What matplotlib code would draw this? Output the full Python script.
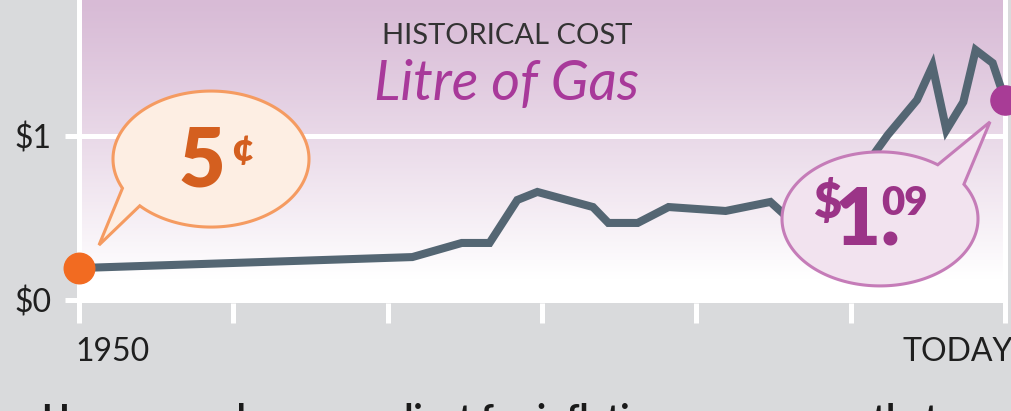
import numpy as np
import matplotlib
matplotlib.use('Agg')
import matplotlib.pyplot as plt
from matplotlib.patches import Polygon
from matplotlib.transforms import IdentityTransform, ScaledTranslation

plt.rcParams['font.family'] = ['Lato', 'DejaVu Sans']

# price of a litre of gas (as plotted)
years = [1950.0, 1971.6, 1974.8, 1976.6, 1978.4, 1979.7, 1983.3, 1984.3, 1986.2,
         1988.2, 1991.9, 1994.8, 1995.6, 1997.5, 1999.5, 2001.7, 2002.4, 2004.3,
         2005.3, 2006.2, 2007.3, 2008.1, 2009.2, 2010.0]
price = [0.195, 0.262, 0.348, 0.348, 0.610, 0.659, 0.567, 0.470, 0.470,
         0.567, 0.543, 0.598, 0.530, 0.500, 0.620, 0.915, 1.006, 1.220,
         1.427, 1.037, 1.207, 1.524, 1.445, 1.220]
xticks = [1950, 1960, 1970, 1980, 1990, 2000, 2010]
xtick_labels = ['1950', '', '', '', '', '', 'TODAY']
yticks = [0, 1]
ytick_labels = ['$0', '$1']

BG = '#d9dadc'
LINE = '#546673'
ORANGE = '#f26b21'
PURPLE = '#a83c96'

fig = plt.figure(figsize=(10.11, 4.11), dpi=100, facecolor=BG)
ax = fig.add_axes([79 / 1011, 108 / 411, 926 / 1011, 303 / 411])
ax.set_xlim(1950, 2010)
ax.set_ylim(-0.018, 1.829)

# purple -> white gradient background
top = np.array([216, 187, 214]) / 255
f = np.linspace(0, 1, 300)
t = np.clip(f / 0.92, 0, 1) ** 1.15
grad = top[None, :] + (1 - top[None, :]) * t[:, None]
ax.imshow(grad[:, None, :], extent=[0, 1, 0, 1], transform=ax.transAxes,
          aspect='auto', zorder=0, interpolation='bilinear')

for s in ['top', 'bottom']:
    ax.spines[s].set_visible(False)
for s in ['left', 'right']:
    ax.spines[s].set_color('white')
    ax.spines[s].set_linewidth(3.6)

ax.set_axisbelow(True)
ax.grid(axis='y', color='white', linewidth=3.6)
ax.set_xticks(xticks)
ax.set_xticklabels(xtick_labels)
ax.set_yticks(yticks)
ax.set_yticklabels(ytick_labels)
ax.tick_params(axis='x', direction='out', length=14.4, width=3.6, color='white',
               pad=10, labelsize=23, labelcolor='#1f1f1f')
ax.tick_params(axis='y', direction='out', length=10, width=3.6, color='white',
               pad=10, labelsize=23, labelcolor='#1f1f1f')
labs = ax.get_xticklabels()
labs[0].set_ha('left')
labs[0].set_transform(labs[0].get_transform() + ScaledTranslation(-0.04, 0, fig.dpi_scale_trans))
labs[-1].set_ha('right')
labs[-1].set_transform(labs[-1].get_transform() + ScaledTranslation(0.08, 0, fig.dpi_scale_trans))

ax.plot(years, price, color=LINE, linewidth=5.8, solid_joinstyle='miter', zorder=3)
ax.plot(years[0], price[0], 'o', color=ORANGE, markersize=22, zorder=5, clip_on=False)
ax.plot(years[-1], price[-1], 'o', color=PURPLE, markersize=21, zorder=5, clip_on=False)

# titles
ax.text(0.462, 0.855, 'HISTORICAL COST', transform=ax.transAxes, ha='center',
        va='baseline', fontsize=21, color='#333333', zorder=6)
ax.text(0.462, 0.67, 'Litre of Gas', transform=ax.transAxes, ha='center',
        va='baseline', fontsize=40, style='italic', color='#a8399a', zorder=6)


def bubble(px_data, cx, cy, a, b, t1, t2, tip, fc, ec):
    px, py = ax.transData.transform(px_data)
    ts = np.radians(np.linspace(t1, t2, 240))
    verts = list(zip(px + cx + a * np.cos(ts), py + cy + b * np.sin(ts)))
    verts.append((px + tip[0], py + tip[1]))
    ax.add_patch(Polygon(verts, closed=True, transform=IdentityTransform(),
                         facecolor=fc, edgecolor=ec, linewidth=2.2,
                         joinstyle='miter', zorder=4, clip_on=False))


start = (years[0], price[0])
end = (years[-1], price[-1])
bubble(start, 132, 109, 98, 68, 223.4, 565.4, (20, 23), '#fdeee3', '#f59b61')
bubble(end, -125, -119, 98, 67, 53.9, 391.1, (-15, -22), '#f2e3ef', '#c57cb8')

px2pt = 0.72
ax.annotate('5', start, xytext=(123 * px2pt, 82 * px2pt), textcoords='offset points',
            ha='center', va='baseline', fontsize=58, fontweight='heavy',
            color='#d45f1f', zorder=6)
ax.annotate('¢', start, xytext=(163 * px2pt, 119 * px2pt), textcoords='offset points',
            ha='center', va='center', fontsize=28, fontweight='heavy',
            color='#d45f1f', zorder=6)

pc = '#9b3487'
ax.annotate('$', end, xytext=(-178 * px2pt, -103 * px2pt), textcoords='offset points',
            ha='center', va='center', fontsize=35, fontweight='heavy', color=pc, zorder=6)
ax.annotate('1.', end, xytext=(-138 * px2pt, -145 * px2pt), textcoords='offset points',
            ha='center', va='baseline', fontsize=57, fontweight='heavy', color=pc, zorder=6)
ax.annotate('09', end, xytext=(-101 * px2pt, -104 * px2pt), textcoords='offset points',
            ha='center', va='center', fontsize=29, fontweight='heavy', color=pc, zorder=6)

# caption running off the bottom edge
fig.text(42 / 1011, -19 / 411, 'However, when you adjust for inflation, we can see that',
         ha='left', va='baseline', fontsize=26, fontweight='bold', color='#1a1a1a')

fig.savefig('out.png', dpi=100, facecolor=BG)
